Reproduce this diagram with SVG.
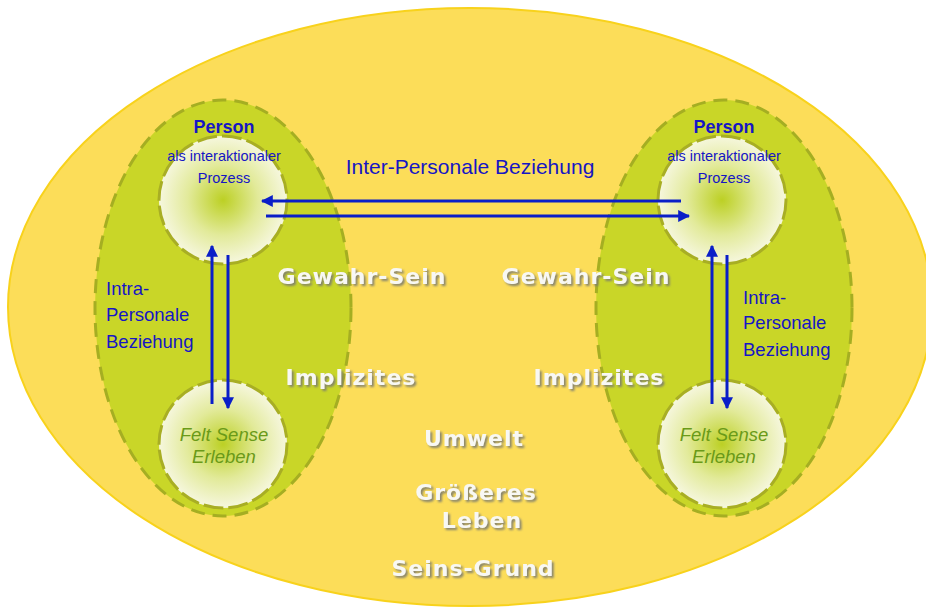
<svg xmlns="http://www.w3.org/2000/svg" width="926" height="612" viewBox="0 0 926 612">
<defs>
<radialGradient id="rg" cx="0.5" cy="0.5" r="0.5">
<stop offset="0" stop-color="#BCD024"/>
<stop offset="0.55" stop-color="#E2EA9A"/>
<stop offset="1" stop-color="#F6F7DE"/>
</radialGradient>
<marker id="ah" viewBox="0 0 10 10" refX="9" refY="5" markerWidth="4" markerHeight="4" orient="auto" markerUnits="strokeWidth">
<path d="M0,0 L10,5 L0,10 z" fill="#0A1EC8"/>
</marker>
<filter id="sh" x="-10%" y="-30%" width="120%" height="160%">
<feGaussianBlur in="SourceAlpha" stdDeviation="1.2" result="b"/>
<feOffset in="b" dx="1.5" dy="2" result="o"/>
<feFlood flood-color="#7A7A70" flood-opacity="0.9"/>
<feComposite in2="o" operator="in" result="s"/>
<feMerge><feMergeNode in="s"/><feMergeNode in="SourceGraphic"/></feMerge>
</filter>
<style>
.outer{fill:#FCDD59;stroke:#F8D21C;stroke-width:2}
.green{fill:#C9D628;stroke:#A5AE22;stroke-width:3;stroke-dasharray:14,8}
.circ{fill:url(#rg);stroke:#A8AE24;stroke-width:3;stroke-dasharray:20,5}
.conn{stroke:#0A1EC8;stroke-width:3;fill:none;marker-end:url(#ah)}
.blue{fill:#1616C4;font-family:"Liberation Sans",Arial,sans-serif}
.felt{fill:#6A9A18;font-family:"Liberation Sans",Arial,sans-serif;font-style:italic;font-size:18.5px}
.emb{font-family:"DejaVu Sans",Verdana,sans-serif;font-weight:bold;font-size:22px;letter-spacing:1px;text-anchor:middle;fill:#F8F8F4;filter:url(#sh)}
</style>
</defs>
<ellipse class="outer" cx="470" cy="307" rx="462" ry="299"/>
<g id="left-person">
<ellipse class="green" cx="223" cy="308" rx="128" ry="208"/>
</g>
<g id="right-person">
<ellipse class="green" cx="724" cy="308" rx="128" ry="208"/>
</g>
<g id="circle-tl"><circle class="circ" cx="223" cy="200" r="64"/></g>
<g id="circle-bl"><circle class="circ" cx="223" cy="444" r="64"/></g>
<g id="circle-tr"><circle class="circ" cx="722" cy="200" r="64"/></g>
<g id="circle-br"><circle class="circ" cx="722" cy="444" r="64"/></g>
<g id="labels-background">
<text class="emb" x="362" y="284">Gewahr-Sein</text>
<text class="emb" x="586" y="284">Gewahr-Sein</text>
<text class="emb" x="351" y="385">Implizites</text>
<text class="emb" x="599" y="385">Implizites</text>
<text class="emb" x="474" y="446">Umwelt</text>
<text class="emb" x="476" y="500">Größeres</text>
<text class="emb" x="482" y="528">Leben</text>
<text class="emb" x="473" y="576">Seins-Grund</text>
</g>
<g id="connectors">
<line class="conn" x1="681" y1="201" x2="262" y2="201"/>
<line class="conn" x1="266" y1="216" x2="689" y2="216"/>
<line class="conn" x1="212" y1="404" x2="212" y2="246"/>
<line class="conn" x1="228" y1="255" x2="228" y2="408"/>
<line class="conn" x1="712" y1="404" x2="712" y2="246"/>
<line class="conn" x1="727" y1="255" x2="727" y2="408"/>
</g>
<g id="text-left">
<text class="blue" x="224" y="133" font-size="18" font-weight="bold" text-anchor="middle">Person</text>
<text class="blue" x="224" y="161" font-size="14.5" text-anchor="middle">als interaktionaler</text>
<text class="blue" x="224" y="183" font-size="14.5" text-anchor="middle">Prozess</text>
<text class="blue" x="106" y="295" font-size="18.5">Intra-</text>
<text class="blue" x="106" y="321" font-size="18.5">Personale</text>
<text class="blue" x="106" y="348" font-size="18.5">Beziehung</text>
<text class="felt" x="224" y="441" text-anchor="middle">Felt Sense</text>
<text class="felt" x="224" y="463" text-anchor="middle">Erleben</text>
</g>
<g id="text-right">
<text class="blue" x="724" y="133" font-size="18" font-weight="bold" text-anchor="middle">Person</text>
<text class="blue" x="724" y="161" font-size="14.5" text-anchor="middle">als interaktionaler</text>
<text class="blue" x="724" y="183" font-size="14.5" text-anchor="middle">Prozess</text>
<text class="blue" x="743" y="304" font-size="18.5">Intra-</text>
<text class="blue" x="743" y="329" font-size="18.5">Personale</text>
<text class="blue" x="743" y="356" font-size="18.5">Beziehung</text>
<text class="felt" x="724" y="441" text-anchor="middle">Felt Sense</text>
<text class="felt" x="724" y="463" text-anchor="middle">Erleben</text>
</g>
<g id="text-inter">
<text class="blue" x="470" y="174" font-size="21" text-anchor="middle">Inter-Personale Beziehung</text>
</g>
</svg>
